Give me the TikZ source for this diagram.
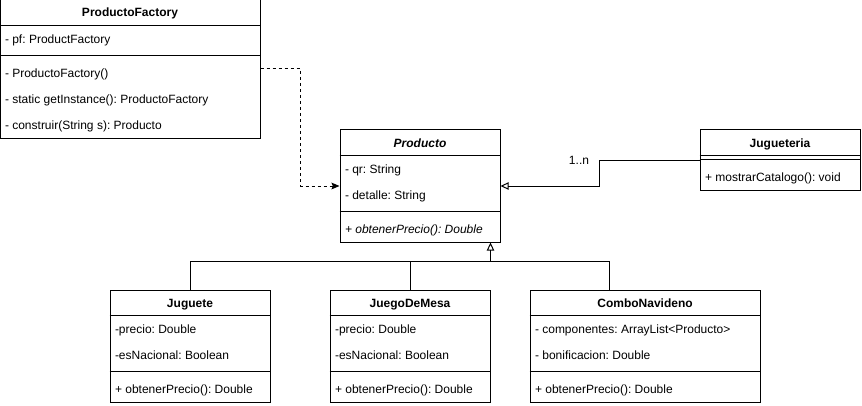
\documentclass[tikz,border=0pt]{standalone}
\usepackage{fontspec}
\setmainfont{Liberation Sans}
\frenchspacing
\usetikzlibrary{calc, positioning, arrows.meta}

\begin{document}
\begin{tikzpicture}[x=0.75pt, y=-0.75pt, line width=0.75pt,
    classbox/.style={draw, rectangle, inner sep=0pt},
    classname/.style={inner sep=0pt, font=\fontsize{9}{11}\selectfont\bfseries},
    member/.style={anchor=base west, inner sep=0pt, font=\fontsize{9}{11}\selectfont},
    inherit/.style={-{Triangle[open, length=6pt, width=5.5pt]}},
    depends/.style={dashed, dash pattern=on 2.25pt off 2.25pt, -{Stealth[length=6pt, width=5pt, inset=1pt]}}]
    \useasboundingbox (0,0) rectangle (862,406);

    % ProductoFactory
    \node[classbox, minimum width=195pt, minimum height=103.5pt] (factory) at (130, 69) {};
    \node[classname, anchor=base] (factoryName) at ($(factory.north)+(0,17.5)$) {ProductoFactory};
    \draw ($(factory.north west)+(0,26)$) -- ($(factory.north east)+(0,26)$);
    \draw ($(factory.north west)+(0,56)$) -- ($(factory.north east)+(0,56)$);
    \node[member] (factoryPf) at ($(factory.north west)+(5,44)$) {- pf: ProductFactory};
    \node[member] (factoryCtor) at ($(factory.north west)+(5,78)$) {- ProductoFactory()};
    \node[member] (factoryGet) at ($(factory.north west)+(5,104)$) {- static getInstance(): ProductoFactory};
    \node[member] (factoryBuild) at ($(factory.north west)+(5,130)$) {- construir(String s): Producto};

    % Producto
    \node[classbox, minimum width=120pt, minimum height=84pt] (producto) at (420, 186) {};
    \node[classname, anchor=base, font=\fontsize{9}{11}\selectfont\bfseries\itshape] (productoName) at ($(producto.north)+(0,17.5)$) {Producto};
    \draw ($(producto.north west)+(0,26)$) -- ($(producto.north east)+(0,26)$);
    \draw ($(producto.north west)+(0,82)$) -- ($(producto.north east)+(0,82)$);
    \node[member] (productoQr) at ($(producto.north west)+(5,44)$) {- qr: String};
    \node[member] (productoDetalle) at ($(producto.north west)+(5,70)$) {- detalle: String};
    \node[member, font=\fontsize{9}{11}\selectfont\itshape] (productoPrecio) at ($(producto.north west)+(5,104)$) {+ obtenerPrecio(): Double};

    % Jugueteria
    \node[classbox, minimum width=120pt, minimum height=45pt] (tienda) at (780, 160) {};
    \node[classname, anchor=base] (tiendaName) at ($(tienda.north)+(0,17.5)$) {Jugueteria};
    \draw ($(tienda.north west)+(0,26)$) -- ($(tienda.north east)+(0,26)$);
    \draw ($(tienda.north west)+(0,30)$) -- ($(tienda.north east)+(0,30)$);
    \node[member] (tiendaCatalogo) at ($(tienda.north west)+(5,52)$) {+ mostrarCatalogo(): void};

    % Juguete
    \node[classbox, minimum width=120pt, minimum height=84pt] (juguete) at (190, 346) {};
    \node[classname, anchor=base] (jugueteName) at ($(juguete.north)+(0,17.5)$) {Juguete};
    \draw ($(juguete.north west)+(0,26)$) -- ($(juguete.north east)+(0,26)$);
    \draw ($(juguete.north west)+(0,82)$) -- ($(juguete.north east)+(0,82)$);
    \node[member] (juguetePrecio) at ($(juguete.north west)+(5,44)$) {-precio: Double};
    \node[member] (jugueteNacional) at ($(juguete.north west)+(5,70)$) {-esNacional: Boolean};
    \node[member] (jugueteObtener) at ($(juguete.north west)+(5,104)$) {+ obtenerPrecio(): Double};

    % JuegoDeMesa
    \node[classbox, minimum width=120pt, minimum height=84pt] (mesa) at (410, 346) {};
    \node[classname, anchor=base] (mesaName) at ($(mesa.north)+(0,17.5)$) {JuegoDeMesa};
    \draw ($(mesa.north west)+(0,26)$) -- ($(mesa.north east)+(0,26)$);
    \draw ($(mesa.north west)+(0,82)$) -- ($(mesa.north east)+(0,82)$);
    \node[member] (mesaPrecio) at ($(mesa.north west)+(5,44)$) {-precio: Double};
    \node[member] (mesaNacional) at ($(mesa.north west)+(5,70)$) {-esNacional: Boolean};
    \node[member] (mesaObtener) at ($(mesa.north west)+(5,104)$) {+ obtenerPrecio(): Double};

    % ComboNavideno
    \node[classbox, minimum width=172.5pt, minimum height=84pt] (combo) at (645, 346) {};
    \node[classname, anchor=base] (comboName) at ($(combo.north)+(0,17.5)$) {ComboNavideno};
    \draw ($(combo.north west)+(0,26)$) -- ($(combo.north east)+(0,26)$);
    \draw ($(combo.north west)+(0,82)$) -- ($(combo.north east)+(0,82)$);
    \node[member] (comboComp) at ($(combo.north west)+(5,44)$) {- componentes: ArrayList<Producto>};
    \node[member] (comboBonif) at ($(combo.north west)+(5,70)$) {- bonificacion: Double};
    \node[member] (comboObtener) at ($(combo.north west)+(5,104)$) {+ obtenerPrecio(): Double};

    % relations
    \draw[depends] (factory.east) -- ++(40,0) |- (producto.west);
    \draw[inherit] (tienda.west) -- ++(-100,0) |- (producto.east);
    \node[member, anchor=base east] (mult) at ($(tienda.west)+(-110,4)$) {1..n};
    \coordinate (bus) at ($(producto.south east)+(-10,19)$);
    \coordinate (comboTop) at ($(combo.north west)+(80,0)$);
    \draw[inherit] (bus) -- (bus |- producto.south);
    \draw (juguete.north) |- (comboTop |- bus) -- (comboTop);
    \draw (mesa.north) -- (mesa.north |- bus);
\end{tikzpicture}
\end{document}
